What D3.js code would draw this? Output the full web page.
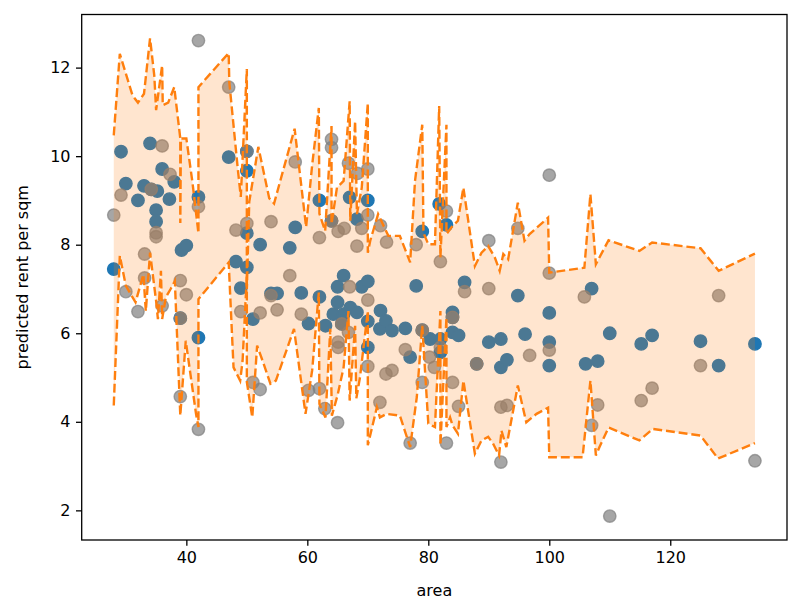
<!DOCTYPE html>
<html>
<head>
<meta charset="utf-8">
<script src="https://cdn.jsdelivr.net/npm/d3@7"></script>
<style>
  body { margin: 0; background: #fff; }
  svg { display: block; font-family: "DejaVu Sans", sans-serif; }
</style>
</head>
<body>
<div id="chart"></div>
<script>
// predicted values (blue) as [area, rent per sqm]
const predPoints = [
  [28,7.45],[29.2,10.1],[30,9.38],[32,9.0],[33,9.33],[34,10.29],[34.2,9.25],[35,8.78],[35,8.52],[35.2,9.21],
  [36,9.71],[37.2,9.03],[38,9.42],[39,6.34],[39.2,7.88],[40,7.98],[42,9.08],[42,5.9],[47,9.98],[48.2,7.62],
  [49,7.02],[50,10.11],[50,9.67],[50,8.26],[50,7.49],[51,6.32],[52.2,8.0],[54,6.9],[55,6.9],[57.1,7.93],
  [58,8.39],[59,6.91],[60.2,6.22],[62,9.0],[62,6.82],[63,6.17],[64,8.54],[64.3,6.43],[65,7.05],[65,6.7],
  [65.7,6.21],[66,7.3],[66,6.43],[67,9.07],[67.1,6.58],[68.2,8.58],[68.2,6.47],[69,7.05],[70,9.0],[70,7.17],
  [70,6.27],[70,5.68],[72,6.1],[72.1,6.51],[73,6.28],[74,6.06],[76.2,6.11],[77,5.46],[78,7.07],[79,8.3],
  [79,6.07],[80.3,5.87],[81.8,8.92],[82,5.87],[82,5.57],[83,8.45],[84,6.47],[84,6.36],[84,6.02],[85,5.95],
  [86,7.15],[88,5.31],[90,5.8],[92,5.87],[92,5.23],[93,5.4],[94.8,6.85],[96,5.98],[100,6.46],[100,5.8],
  [100,5.27],[106,5.31],[107,7.01],[108,5.37],[110,6.0],[115.2,5.76],[117,5.95],[125,5.82],[128,5.27],[134,5.76]
];

// actual values (grey)
const actualPoints = [
  [28,8.67],[29.2,9.12],[30,6.94],[32,6.49],[33.1,7.79],[33.1,7.25],[34.2,9.25],[35,8.27],[35,8.18],[36,10.23],
  [36,6.62],[37.3,9.59],[39,7.19],[39,6.34],[39,4.57],[40,6.87],[42,12.61],[42,8.86],[42,3.83],[47,11.56],
  [48.2,8.33],[49,6.49],[50,10.11],[50,8.48],[51,4.89],[52.2,6.46],[52.2,4.73],[54,8.52],[54,6.85],[55,6.53],
  [57.1,7.3],[58,9.87],[59,6.43],[60.2,4.71],[62,8.16],[62,4.75],[62.9,4.3],[64,10.38],[64,10.19],[64,8.54],
  [65,3.98],[65.1,8.3],[65.1,5.8],[65.1,5.68],[65.7,6.21],[66.1,8.37],[66.8,9.84],[66.8,6.02],[67,7.05],[68.2,7.97],
  [68.3,9.61],[69,8.37],[70,9.71],[70,8.67],[70,6.75],[70,5.25],[72,4.44],[72.1,8.43],[73,5.08],[73.1,8.06],
  [74,5.16],[76.2,5.63],[77,3.52],[78,8.0],[79,6.07],[79,4.89],[80.2,5.46],[81,5.23],[82,7.62],[82,5.68],
  [83,8.76],[83,3.52],[84,6.36],[84,4.89],[85,4.35],[86,6.94],[88,5.31],[90,8.09],[90,7.01],[92,4.33],
  [92,3.09],[93,4.37],[94.8,8.37],[96.75,5.5],[100,9.57],[100,7.36],[100,5.62],[105.8,6.82],[107,3.92],[108,4.38],
  [110,1.87],[115.2,4.48],[117,4.76],[125,5.27],[128,6.85],[134,3.12]
];

// upper bound of the interval, sorted by area
const upperLine = [
  [28,10.47],[29,12.31],[31.1,11.37],[32,11.21],[33,11.41],[34,12.66],[34.7,11.82],[35,11.04],[36,12.05],[36.1,11.15],
  [37,11.21],[38,11.56],[39,10.4],[39,8.49],[39.1,10.4],[40,10.4],[41,9.42],[42,8.26],[42,11.56],[47,12.33],
  [47.1,11.67],[48.5,9.72],[49,9.08],[50,11.97],[50,7.0],[50.4,8.97],[51.9,10.21],[53.7,9.05],[54.5,8.93],[57.9,10.62],
  [59.8,8.4],[60.8,9.8],[61.9,11.09],[62,8.7],[62.95,8.31],[64,10.68],[64,8.47],[64.9,9.29],[66,9.44],[67,11.24],
  [67.1,8.54],[67.9,10.79],[68.2,8.69],[69,9.29],[70,11.2],[70,7.82],[70.4,8.09],[71.7,8.69],[73.4,8.2],[75.3,8.2],
  [77,7.6],[77.8,9.44],[79,10.71],[79.2,8.27],[80,8.01],[81.1,8.01],[81.8,11.13],[82,7.71],[83,10.71],[83,8.24],
  [83.8,8.39],[84.9,8.54],[85.8,9.29],[87.7,7.52],[88.8,7.82],[89.9,7.97],[91,7.71],[91.8,7.41],[92.4,7.79],[93.2,7.67],
  [94.8,8.95],[95.9,8.09],[96.75,8.24],[99.8,8.61],[100,7.37],[105.8,7.48],[106.8,9.14],[107.7,7.56],[109.8,8.1],[114.9,7.86],
  [117,8.05],[125,7.92],[128,7.41],[134,7.8]
];

// lower bound of the interval, sorted by area
const lowerLine = [
  [28,4.37],[29,7.75],[30,7.07],[31.6,6.7],[32.9,7.33],[33.3,6.5],[34,7.82],[35,6.73],[35.3,6.32],[35.8,7.41],
  [36,6.32],[36.6,6.81],[37.4,7.0],[38.1,7.18],[39,4.14],[39.9,5.83],[41.6,4.18],[42,3.88],[42,6.77],[47,7.6],
  [47.8,5.23],[48.9,4.93],[49.3,5.38],[50,7.3],[50,4.9],[50.9,4.1],[51.7,5.72],[52.6,5.38],[53.9,4.86],[54.8,4.93],
  [57.8,6.1],[59.7,4.18],[60.8,5.16],[61.9,6.92],[62,4.4],[63,4.1],[63.8,6.1],[64.06,4.14],[65,4.6],[66,5.23],
  [66.8,6.5],[67,4.48],[67.9,6.17],[68.1,4.53],[68.7,5.0],[70,6.5],[70,3.47],[71.5,4.33],[72,4.1],[73.1,4.18],
  [75.3,4.14],[77,3.43],[78.1,4.56],[79,6.17],[80,3.96],[81.1,3.88],[82,6.5],[82,3.47],[83,6.36],[83,3.88],
  [83.6,4.1],[84,3.92],[84.9,3.73],[85.8,4.93],[87.7,3.28],[88.8,3.58],[89.9,3.66],[90.7,3.51],[91.7,3.24],[92.1,3.8],
  [92.9,3.43],[94.8,4.82],[96.2,3.99],[97.9,4.18],[99.8,4.32],[100,3.2],[105.5,3.2],[106.8,4.93],[107.7,3.24],[108.3,3.43],
  [109.8,3.87],[114.9,3.58],[117.1,3.84],[125,3.69],[127.9,3.17],[134,3.52]
];

const xTicks = [40, 60, 80, 100, 120];
const yTicks = [2, 4, 6, 8, 10, 12];

const W = 800, H = 615;
const margin = { top: 14.5, right: 13, bottom: 75, left: 81.7 };

// matplotlib-like 5% padding around all drawn data
const allPts = predPoints.concat(actualPoints, upperLine, lowerLine);
const xExt = d3.extent(allPts, d => d[0]);
const yExt = d3.extent(allPts, d => d[1]);
const xPad = (xExt[1] - xExt[0]) * 0.05;
const yPad = (yExt[1] - yExt[0]) * 0.05;

const x = d3.scaleLinear()
  .domain([xExt[0] - xPad, xExt[1] + xPad])
  .range([margin.left, W - margin.right]);
const y = d3.scaleLinear()
  .domain([yExt[0] - yPad, yExt[1] + yPad])
  .range([H - margin.bottom, margin.top]);

const svg = d3.select("#chart").append("svg")
  .attr("width", W)
  .attr("height", H);

// blue predicted points
svg.append("g").selectAll("circle")
  .data(predPoints)
  .enter().append("circle")
  .attr("cx", d => x(d[0]))
  .attr("cy", d => y(d[1]))
  .attr("r", 6.2)
  .attr("fill", "#1f77b4")
  .attr("stroke", "#1f77b4")
  .attr("stroke-width", 1.4);

// grey actual points (semi transparent)
svg.append("g").selectAll("circle")
  .data(actualPoints)
  .enter().append("circle")
  .attr("cx", d => x(d[0]))
  .attr("cy", d => y(d[1]))
  .attr("r", 6.2)
  .attr("fill", "#808080")
  .attr("fill-opacity", 0.7)
  .attr("stroke", "#808080")
  .attr("stroke-opacity", 0.7)
  .attr("stroke-width", 1.4);

// interval band
const line = d3.line().x(d => x(d[0])).y(d => y(d[1]));
const band = upperLine.concat(lowerLine.slice().reverse());
svg.append("path")
  .attr("d", line(band) + "Z")
  .attr("fill", "#ff7f0e")
  .attr("fill-opacity", 0.2)
  .attr("stroke", "none");

[upperLine, lowerLine].forEach(pts => {
  svg.append("path")
    .attr("d", line(pts))
    .attr("fill", "none")
    .attr("stroke", "#ff7f0e")
    .attr("stroke-width", 2.4)
    .attr("stroke-dasharray", "8.9,3.9");
});

// axes
const xAxis = svg.append("g")
  .attr("transform", `translate(0,${H - margin.bottom})`)
  .call(d3.axisBottom(x).tickValues(xTicks).tickSize(5.7).tickPadding(5.5).tickFormat(d3.format("d")));
const yAxis = svg.append("g")
  .attr("transform", `translate(${margin.left},0)`)
  .call(d3.axisLeft(y).tickValues(yTicks).tickSize(5.7).tickPadding(5.5).tickFormat(d3.format("d")));

[xAxis, yAxis].forEach(g => {
  g.select(".domain").remove();
  g.selectAll(".tick line").attr("stroke", "#000").attr("stroke-width", 1.3);
  g.selectAll(".tick text")
    .attr("fill", "#000")
    .attr("font-size", 16)
    .attr("font-family", "DejaVu Sans, sans-serif");
});

// frame
svg.append("rect")
  .attr("x", margin.left)
  .attr("y", margin.top)
  .attr("width", W - margin.right - margin.left)
  .attr("height", H - margin.bottom - margin.top)
  .attr("fill", "none")
  .attr("stroke", "#000")
  .attr("stroke-width", 1.3);

// axis labels
svg.append("text")
  .attr("x", (margin.left + W - margin.right) / 2)
  .attr("y", 596)
  .attr("text-anchor", "middle")
  .attr("font-size", 16)
  .text("area");

svg.append("text")
  .attr("transform", `translate(27.5,${(margin.top + H - margin.bottom) / 2}) rotate(-90)`)
  .attr("text-anchor", "middle")
  .attr("font-size", 16)
  .text("predicted rent per sqm");
</script>
</body>
</html>
